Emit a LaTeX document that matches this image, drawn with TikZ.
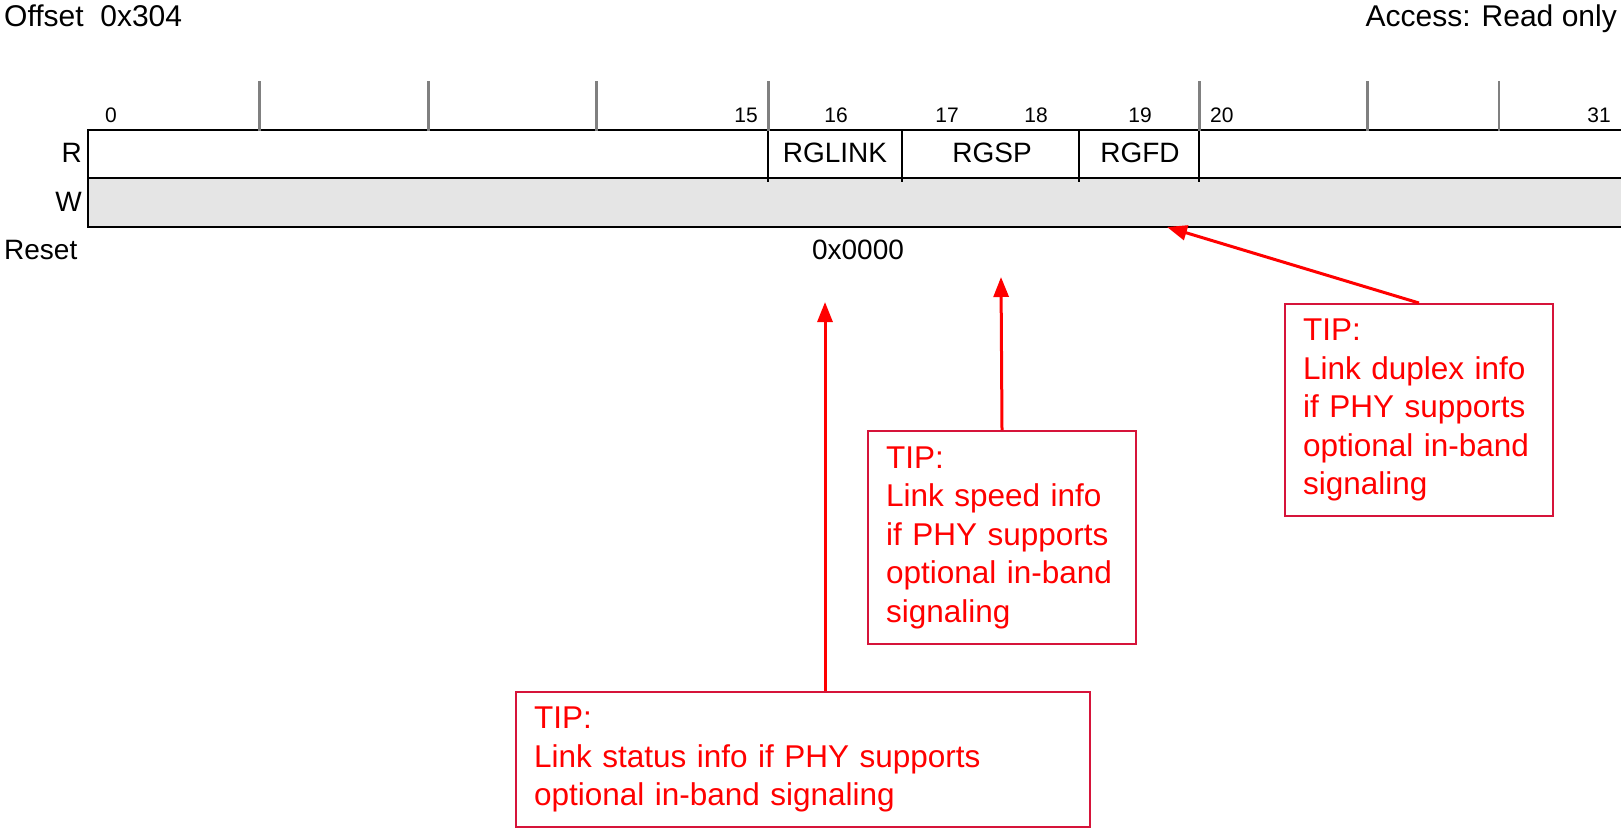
\documentclass[tikz,border=0pt]{standalone}
\usepackage{fontspec}
\setmainfont{Liberation Sans}
\usetikzlibrary{arrows.meta}
\definecolor{tipred}{RGB}{255,0,0}
\definecolor{tipborder}{RGB}{214,20,58}
\definecolor{wgray}{RGB}{229,229,229}
\definecolor{tickgray}{RGB}{128,128,128}
\begin{document}
\begin{tikzpicture}[x=1pt,y=-1pt,
  lbl/.style={inner sep=0, font=\fontsize{28}{34}\selectfont},
  bitnum/.style={inner sep=0, font=\fontsize{21}{25}\selectfont},
  head/.style={inner sep=0, font=\fontsize{30}{36}\selectfont},
  tipbox/.style={draw=tipborder, line width=2, text=tipred, align=left, inner xsep=18, inner ysep=0, font=\fontsize{31.5}{38.5}\selectfont, anchor=north west},
  arr/.style={draw=tipred, line width=3, -{Triangle[length=20,width=15]}},
  tickmark/.style={draw=tickgray, line width=3},
  regline/.style={draw=black, line width=2}
]
\useasboundingbox (0,0) rectangle (1621,827);
\clip (0,0) rectangle (1621,827);

% register body
\fill[wgray] (88,178) rectangle (1630,227);
\draw[regline] (1630,130) -- (88,130) -- (88,227) -- (1630,227);
\draw[regline] (88,178) -- (1630,178);
\foreach \x in {768,902,1079,1199} \draw[regline] (\x,130) -- (\x,182);
\foreach \x in {259,428,596,768,1199,1367} \draw[tickmark] (\x,81) -- (\x,131);
\draw[tickmark, line width=2] (1499,81) -- (1499,131);

% headings
\node[head, anchor=base west] (off) at (4,27) {Offset~ 0x304};
\node[head, anchor=base east] (acc) at (1617,27) {Access: Read only};

% bit numbers
\node[bitnum, anchor=base] (b0) at (111,122) {0};
\node[bitnum, anchor=base] (b15) at (746,122) {15};
\node[bitnum, anchor=base] (b16) at (836,122) {16};
\node[bitnum, anchor=base] (b17) at (947,122) {17};
\node[bitnum, anchor=base] (b18) at (1036,122) {18};
\node[bitnum, anchor=base] (b19) at (1140,122) {19};
\node[bitnum, anchor=base west] (b20) at (1210,122) {20};
\node[bitnum, anchor=base] (b31) at (1599,122) {31};

% row labels
\node[lbl, anchor=base east] (rr) at (82,162) {R};
\node[lbl, anchor=base east] (ww) at (82,211) {W};
\node[lbl, anchor=base west] (rst) at (4,259) {Reset};
\node[lbl, anchor=base] (rv) at (858,259) {0x0000};

% fields
\node[lbl, anchor=base] (f1) at (835,162) {RGLINK};
\node[lbl, anchor=base] (f2) at (992,162) {RGSP};
\node[lbl, anchor=base] (f3) at (1140,162) {RGFD};

% tips
\node[tipbox, text width=232, minimum width=268, minimum height=212] (d) at (1284,303)
  {TIP:\\Link duplex info\\if PHY supports\\optional in-band\\signaling};
\node[tipbox, text width=232, minimum width=268, minimum height=213] (sp) at (867,430)
  {TIP:\\Link speed info\\if PHY supports\\optional in-band\\signaling};
\node[tipbox, text width=538, minimum width=574, minimum height=135] (s) at (515,691)
  {TIP:\\Link status info if PHY supports\\optional in-band signaling};

\coordinate (t1) at (825,302);
\coordinate (t2) at (1001,277);
\coordinate (t3) at (1167,227);
\draw[arr] (s.north -| t1) -- (t1);
\draw[arr] (sp.north) -- (t2);
\draw[arr] (d.north) -- (t3);
\end{tikzpicture}
\end{document}
